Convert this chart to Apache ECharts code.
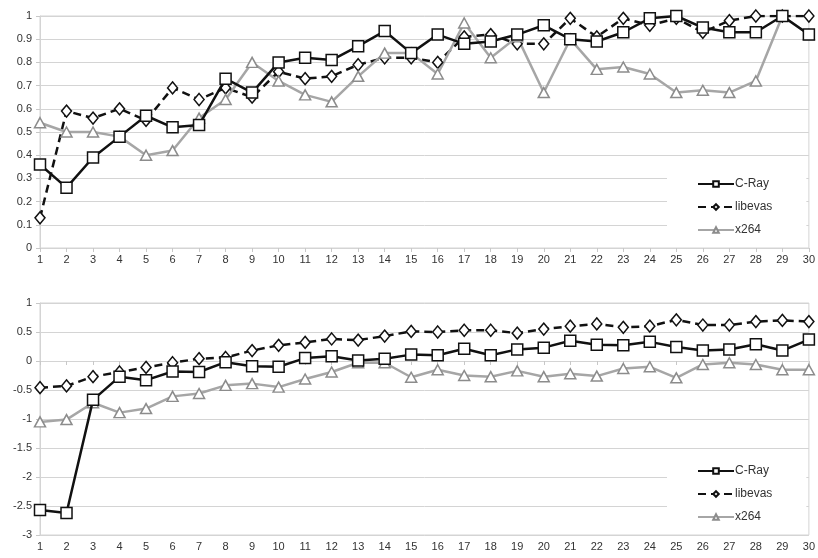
<!DOCTYPE html>
<html>
<head>
<meta charset="utf-8">
<script src="https://cdn.jsdelivr.net/npm/echarts@6/dist/echarts.min.js"></script>
<style>
  html, body { margin: 0; padding: 0; background: #fff; }
  #chart { width: 818px; height: 558px; }
</style>
</head>
<body>
<div id="chart"></div>
<script>
var categories = [];
for (var i = 1; i <= 30; i++) categories.push(String(i));

// top panel
var crayTop = [0.36, 0.26, 0.39, 0.48, 0.57, 0.52, 0.53, 0.73, 0.67, 0.80,
               0.82, 0.81, 0.87, 0.935, 0.84, 0.92, 0.88, 0.89, 0.92, 0.96,
               0.90, 0.89, 0.93, 0.99, 1.00, 0.95, 0.93, 0.93, 1.00, 0.92];
var libevasTop = [0.13, 0.59, 0.56, 0.60, 0.55, 0.69, 0.64, 0.69, 0.65, 0.76,
                  0.73, 0.74, 0.79, 0.82, 0.82, 0.80, 0.91, 0.92, 0.88, 0.88,
                  0.99, 0.91, 0.99, 0.96, 0.99, 0.93, 0.98, 1.00, 1.00, 1.00];
var x264Top = [0.54, 0.50, 0.50, 0.48, 0.40, 0.42, 0.56, 0.64, 0.80, 0.72,
               0.66, 0.63, 0.74, 0.84, 0.84, 0.75, 0.97, 0.82, 0.91, 0.67,
               0.90, 0.77, 0.78, 0.75, 0.67, 0.68, 0.67, 0.72, 1.00, 0.92];

// bottom panel
var crayBottom = [-2.57, -2.62, -0.67, -0.27, -0.33, -0.18, -0.19, -0.02, -0.09, -0.10,
                  0.05, 0.08, 0.01, 0.04, 0.11, 0.10, 0.21, 0.10, 0.20, 0.23,
                  0.35, 0.28, 0.27, 0.33, 0.24, 0.18, 0.20, 0.29, 0.18, 0.37];
var libevasBottom = [-0.46, -0.43, -0.27, -0.19, -0.11, -0.03, 0.04, 0.06, 0.18, 0.27,
                     0.32, 0.38, 0.36, 0.43, 0.51, 0.50, 0.53, 0.53, 0.48, 0.55,
                     0.60, 0.64, 0.58, 0.60, 0.71, 0.62, 0.62, 0.68, 0.70, 0.68];
var x264Bottom = [-1.05, -1.01, -0.72, -0.89, -0.82, -0.61, -0.56, -0.42, -0.39, -0.45,
                  -0.31, -0.19, -0.03, -0.03, -0.28, -0.15, -0.25, -0.27, -0.17, -0.27,
                  -0.22, -0.26, -0.13, -0.10, -0.29, -0.06, -0.03, -0.06, -0.15, -0.15];

var font = 'Liberation Sans, Arial, sans-serif';
var gridColor = '#d4d4d4';

function makeX(idx) {
  return {
    type: 'category', gridIndex: idx, data: categories, boundaryGap: false,
    axisLine: { lineStyle: { color: gridColor } },
    axisTick: { show: true, length: 4, lineStyle: { color: '#c8c8c8' } },
    axisLabel: { color: '#333', fontFamily: font, fontSize: 11, margin: 6, interval: 0 },
    splitLine: { show: false }
  };
}
function makeY(idx, min, max, step) {
  return {
    type: 'value', gridIndex: idx, min: min, max: max, interval: step,
    axisLine: { show: true, lineStyle: { color: gridColor } },
    axisTick: { show: true, length: 4, lineStyle: { color: '#c8c8c8' } },
    axisLabel: { color: '#333', fontFamily: font, fontSize: 11, margin: 8 },
    splitLine: { lineStyle: { color: gridColor, width: 1 } }
  };
}
function makeSeries(name, data, idx, kind) {
  var s = {
    name: name, type: 'line', data: data, xAxisIndex: idx, yAxisIndex: idx,
    symbolSize: 11, showSymbol: true, animation: false, z: kind === 'cray' ? 4 : 3,
    itemStyle: { color: '#fff', borderWidth: 1.5 }
  };
  if (kind === 'cray') {
    s.symbol = 'rect';
    s.lineStyle = { color: '#111', width: 2.5 };
    s.itemStyle.borderColor = '#111';
  } else if (kind === 'libevas') {
    s.symbol = 'diamond';
    s.symbolSize = [10, 12];
    s.lineStyle = { color: '#111', width: 2.5, type: [8, 5] };
    s.itemStyle.borderColor = '#111';
  } else {
    s.symbol = 'triangle';
    s.symbolSize = [11, 10];
    s.lineStyle = { color: '#a6a6a6', width: 2.5 };
    s.itemStyle.borderColor = '#8c8c8c';
  }
  return s;
}
function makeLegend(top) {
  return {
    orient: 'vertical', left: 667, top: top,
    backgroundColor: '#fff', padding: [8, 34, 4, 30], itemGap: 11,
    itemWidth: 36, itemHeight: 7,
    textStyle: { color: '#333', fontFamily: font, fontSize: 12, padding: [0, 0, 0, -4] },
    data: ['C-Ray', 'libevas', 'x264']
  };
}

var chart = echarts.init(document.getElementById('chart'));
chart.setOption({
  backgroundColor: '#fff',
  animation: false,
  grid: [
    { left: 40, right: 9, top: 16, height: 232, show: true, borderColor: gridColor, borderWidth: 1 },
    { left: 40, right: 9, top: 303, height: 232, show: true, borderColor: gridColor, borderWidth: 1 }
  ],
  legend: [makeLegend(170), makeLegend(457)],
  xAxis: [makeX(0), makeX(1)],
  yAxis: [makeY(0, 0, 1, 0.1), makeY(1, -3, 1, 0.5)],
  series: [
    makeSeries('C-Ray', crayTop, 0, 'cray'),
    makeSeries('libevas', libevasTop, 0, 'libevas'),
    makeSeries('x264', x264Top, 0, 'x264'),
    makeSeries('C-Ray', crayBottom, 1, 'cray'),
    makeSeries('libevas', libevasBottom, 1, 'libevas'),
    makeSeries('x264', x264Bottom, 1, 'x264')
  ]
});
</script>
</body>
</html>
